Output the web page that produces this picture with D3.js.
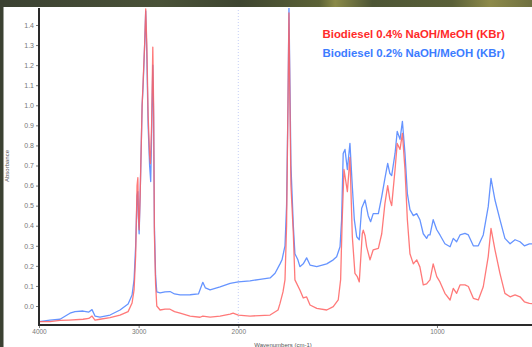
<!DOCTYPE html>
<html>
<head>
<meta charset="utf-8">
<script src="https://cdn.jsdelivr.net/npm/d3@7"></script>
<style>
  html, body { margin: 0; padding: 0; background: #fff; }
  svg { display: block; font-family: "Liberation Sans", Arial, sans-serif; }
</style>
</head>
<body>
<svg id="chart" width="532" height="347"></svg>
<script>
// series labels
const seriesNames = ["Biodiesel 0.4% NaOH/MeOH (KBr)", "Biodiesel 0.2% NaOH/MeOH (KBr)"];

// wavenumber (cm-1) / absorbance
const red04 = [
  [4000, -0.078], [3890, -0.078], [3789, -0.072], [3700, -0.07], [3558, -0.066], [3500, -0.062],
  [3468, -0.05], [3438, -0.07], [3388, -0.066], [3287, -0.058], [3187, -0.045], [3106, -0.028],
  [3066, 0.015], [3046, 0.08], [3030, 0.25], [3016, 0.6], [3008, 0.64], [3002, 0.45], [2995, 0.38],
  [2985, 0.55], [2965, 1.0], [2955, 1.12], [2940, 1.3], [2929, 1.48], [2918, 1.3], [2905, 0.95],
  [2890, 0.75], [2882, 0.71], [2870, 0.9], [2858, 1.29], [2850, 1.0], [2842, 0.36], [2830, 0.11],
  [2818, 0.0], [2785, -0.02], [2735, -0.016], [2685, -0.016], [2640, -0.028], [2584, -0.036],
  [2484, -0.05], [2384, -0.056], [2356, -0.05], [2283, -0.055], [2183, -0.05], [2082, -0.04],
  [2052, -0.036], [2000, -0.045], [1941, -0.05], [1840, -0.045], [1800, -0.02], [1790, 0.013],
  [1775, 0.07], [1765, 0.13], [1757, 0.4], [1750, 1.0], [1745, 1.46], [1740, 1.0], [1735, 0.6],
  [1723, 0.36], [1715, 0.13], [1690, 0.08], [1673, 0.04], [1656, 0.045], [1639, 0.005],
  [1605, -0.012], [1555, -0.02], [1522, -0.003], [1497, 0.03], [1485, 0.13], [1477, 0.43],
  [1468, 0.68], [1451, 0.57], [1438, 0.74], [1426, 0.345], [1413, 0.163], [1401, 0.146],
  [1391, 0.12], [1376, 0.36], [1371, 0.378], [1362, 0.35], [1354, 0.295], [1337, 0.23],
  [1321, 0.28], [1295, 0.287], [1278, 0.36], [1262, 0.51], [1248, 0.6], [1237, 0.53],
  [1228, 0.5], [1211, 0.68], [1200, 0.81], [1186, 0.78], [1174, 0.86], [1161, 0.68],
  [1149, 0.43], [1136, 0.26], [1119, 0.21], [1102, 0.23], [1086, 0.195], [1069, 0.105],
  [1052, 0.11], [1044, 0.12], [1035, 0.13], [1019, 0.21], [1001, 0.146], [985, 0.12],
  [960, 0.063], [934, 0.03], [918, 0.088], [901, 0.063], [884, 0.105], [859, 0.105],
  [842, 0.097], [817, 0.038], [792, 0.03], [767, 0.096], [742, 0.246], [728, 0.387],
  [708, 0.28], [683, 0.163], [658, 0.063], [632, 0.046], [607, 0.055], [582, 0.046],
  [560, 0.021], [535, 0.013], [500, 0.01]
];

const blue02 = [
  [4000, -0.078], [3890, -0.07], [3789, -0.066], [3689, -0.036], [3639, -0.028], [3558, -0.025],
  [3500, -0.03], [3468, -0.018], [3438, -0.05], [3388, -0.055], [3287, -0.045], [3187, -0.02],
  [3106, 0.01], [3066, 0.055], [3046, 0.13], [3030, 0.3], [3016, 0.55], [3008, 0.57],
  [3002, 0.43], [2995, 0.36], [2985, 0.55], [2965, 1.0], [2955, 1.1], [2940, 1.3], [2929, 1.47],
  [2918, 1.25], [2905, 0.9], [2890, 0.7], [2879, 0.62], [2870, 0.85], [2858, 1.2], [2850, 0.95],
  [2842, 0.4], [2830, 0.15], [2818, 0.07], [2785, 0.065], [2735, 0.07], [2685, 0.072],
  [2640, 0.06], [2584, 0.055], [2484, 0.056], [2400, 0.06], [2356, 0.118], [2330, 0.09],
  [2283, 0.08], [2183, 0.095], [2082, 0.113], [2000, 0.12], [1941, 0.125], [1891, 0.133],
  [1840, 0.14], [1815, 0.163], [1790, 0.21], [1780, 0.23], [1765, 0.3], [1757, 0.5],
  [1750, 1.0], [1745, 1.49], [1740, 1.1], [1735, 0.7], [1723, 0.4], [1715, 0.26], [1700, 0.23],
  [1690, 0.196], [1673, 0.21], [1656, 0.24], [1639, 0.204], [1605, 0.196], [1555, 0.21],
  [1522, 0.23], [1505, 0.245], [1488, 0.295], [1480, 0.43], [1472, 0.76], [1463, 0.78],
  [1451, 0.68], [1438, 0.81], [1426, 0.594], [1416, 0.43], [1404, 0.345], [1391, 0.33],
  [1379, 0.487], [1362, 0.528], [1346, 0.45], [1334, 0.42], [1321, 0.46], [1295, 0.46],
  [1278, 0.545], [1262, 0.636], [1248, 0.71], [1237, 0.66], [1228, 0.65], [1211, 0.76],
  [1200, 0.87], [1186, 0.83], [1174, 0.92], [1161, 0.76], [1149, 0.56], [1136, 0.48],
  [1119, 0.45], [1102, 0.46], [1086, 0.43], [1069, 0.36], [1052, 0.337], [1044, 0.354],
  [1035, 0.354], [1019, 0.43], [1001, 0.38], [985, 0.354], [960, 0.31], [934, 0.295],
  [918, 0.337], [901, 0.32], [884, 0.354], [859, 0.362], [842, 0.354], [817, 0.3],
  [792, 0.3], [767, 0.354], [742, 0.495], [728, 0.636], [708, 0.528], [683, 0.43],
  [658, 0.337], [632, 0.31], [607, 0.33], [582, 0.32], [560, 0.3], [535, 0.31], [500, 0.31]
];

const xTickValues = [4000, 3000, 2000, 1000];
const yTickValues = [0.0, 0.1, 0.2, 0.3, 0.4, 0.5, 0.6, 0.7, 0.8, 0.9, 1.0, 1.1, 1.2, 1.3, 1.4];

const width = 532, height = 347;
const plot = { left: 39, right: 532, top: 8, bottom: 325 };

const svg = d3.select("#chart");

// backdrop: dark olive slide border at top and left
const defs = svg.append("defs");
const grad = defs.append("linearGradient").attr("id", "topband").attr("x1", 0).attr("x2", 1);
[[0, "#3b4132"], [0.3, "#4a5238"], [0.45, "#3e4530"], [0.6, "#5c6236"], [0.63, "#8a8a48"],
 [0.7, "#4d5535"], [0.85, "#5a6038"], [0.92, "#8d8a4a"], [1, "#6f7040"]]
  .forEach(([o, c]) => grad.append("stop").attr("offset", o).attr("stop-color", c));

svg.append("rect").attr("width", width).attr("height", height).attr("fill", "#ffffff");
svg.append("rect").attr("width", width).attr("height", 7).attr("fill", "url(#topband)");
svg.append("rect").attr("width", 3.5).attr("height", height).attr("fill", "#3b4132");

defs.append("clipPath").attr("id", "plotclip")
  .append("rect")
  .attr("x", plot.left).attr("y", plot.top)
  .attr("width", plot.right - plot.left).attr("height", plot.bottom - plot.top);

// FTIR style axis: scale doubles below 2000 cm-1
const x = d3.scaleLinear()
  .domain([4000, 2000, 500])
  .range([39, 238.3, 536.3]);

const y = d3.scaleLinear()
  .domain([0, 1.4])
  .range([306, 25]);

// dotted marker at the scale change
svg.append("line")
  .attr("x1", x(2000)).attr("x2", x(2000))
  .attr("y1", plot.top + 2).attr("y2", plot.bottom)
  .attr("stroke", "#b8c4f4")
  .attr("stroke-width", 0.8)
  .attr("stroke-dasharray", "1,2");

const line = d3.line()
  .x(d => x(d[0]))
  .y(d => y(d[1]));

const traces = svg.append("g").attr("clip-path", "url(#plotclip)");

traces.append("path")
  .datum(blue02)
  .attr("fill", "none")
  .attr("stroke", "#6694ff")
  .attr("stroke-width", 1.3)
  .attr("stroke-linejoin", "round")
  .attr("d", line);

traces.append("path")
  .datum(red04)
  .attr("fill", "none")
  .attr("stroke", "#ff6262")
  .attr("stroke-width", 1.3)
  .attr("stroke-opacity", 0.85)
  .attr("stroke-linejoin", "round")
  .attr("d", line);

// axes
const yAxis = d3.axisLeft(y)
  .tickValues(yTickValues)
  .tickFormat(d3.format(".1f"))
  .tickSize(3)
  .tickPadding(2);

const gy = svg.append("g")
  .attr("transform", `translate(${plot.left},0)`)
  .call(yAxis);
gy.select(".domain").remove();
gy.selectAll(".tick line").attr("stroke", "#777");
gy.selectAll(".tick text")
  .attr("fill", "#777")
  .style("font-size", "7px")
  .style("font-family", "'Liberation Sans', Arial, sans-serif");

const xAxis = d3.axisBottom(x)
  .tickValues(xTickValues)
  .tickFormat(d3.format("d"))
  .tickSize(3)
  .tickPadding(1);

const gx = svg.append("g")
  .attr("transform", `translate(0,${plot.bottom})`)
  .call(xAxis);
gx.select(".domain").remove();
gx.selectAll(".tick line").attr("stroke", "#777");
gx.selectAll(".tick text")
  .attr("fill", "#777")
  .style("font-size", "6.5px")
  .style("font-family", "'Liberation Sans', Arial, sans-serif");

// heavy axis frame lines
svg.append("line")
  .attr("x1", plot.left).attr("x2", plot.left)
  .attr("y1", plot.top).attr("y2", plot.bottom + 1)
  .attr("stroke", "#2a2a2a").attr("stroke-width", 2);
svg.append("line")
  .attr("x1", plot.left - 1).attr("x2", plot.right)
  .attr("y1", plot.bottom).attr("y2", plot.bottom)
  .attr("stroke", "#2a2a2a").attr("stroke-width", 1.8);

// axis titles
svg.append("text")
  .attr("transform", `translate(9,166) rotate(-90)`)
  .attr("text-anchor", "middle")
  .attr("fill", "#555")
  .style("font-size", "6px")
  .text("Absorbance");

svg.append("text")
  .attr("x", 283).attr("y", 347)
  .attr("text-anchor", "middle")
  .attr("fill", "#555")
  .style("font-size", "6px")
  .text("Wavenumbers (cm-1)");

// legend text
svg.append("text")
  .attr("x", 322.5).attr("y", 37.5)
  .attr("fill", "#ff2a2a")
  .style("font-size", "11.4px")
  .style("font-weight", "bold")
  .text(seriesNames[0]);

svg.append("text")
  .attr("x", 322.5).attr("y", 56.5)
  .attr("fill", "#3c7cff")
  .style("font-size", "11.4px")
  .style("font-weight", "bold")
  .text(seriesNames[1]);
</script>
</body>
</html>
